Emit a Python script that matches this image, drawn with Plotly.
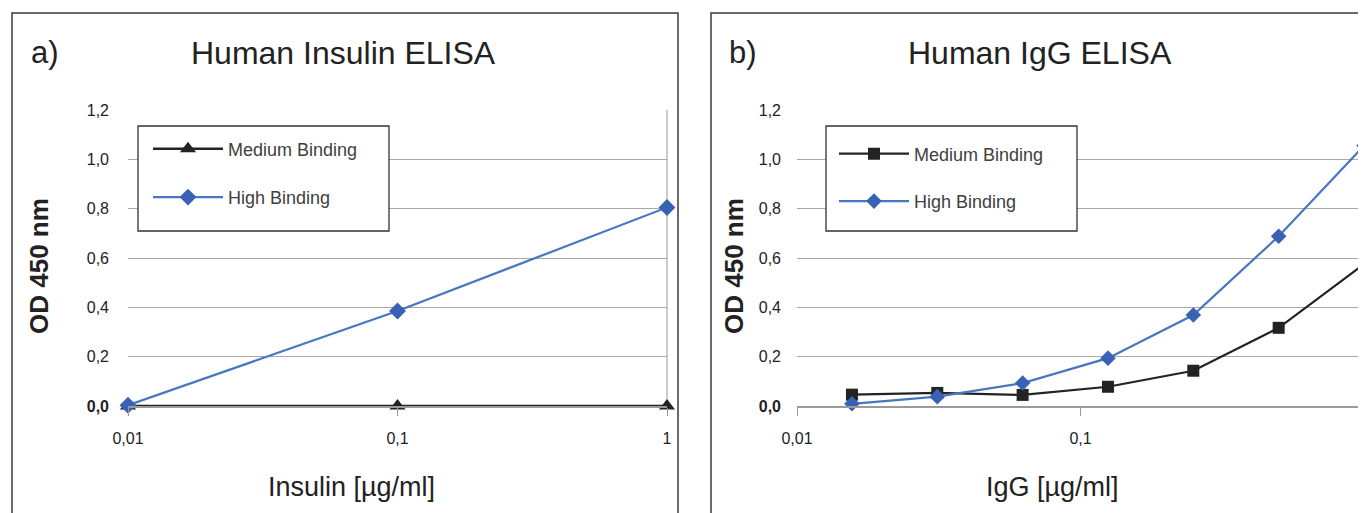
import plotly.graph_objects as go

# page body has an 8px margin; figure starts at (8, 8) inside the 1366x513 window
OFF = 8
W, H = 1366 - OFF, 513 - OFF

# ---- data ----
insulin_conc = [0.01, 0.1, 1]
insulin_medium = [0.0, 0.0, 0.0]
insulin_high = [0.003, 0.385, 0.805]

igg_conc = [0.015625, 0.03125, 0.0625, 0.125, 0.25, 0.5, 1]
igg_medium = [0.046, 0.053, 0.045, 0.078, 0.143, 0.317, 0.575]
igg_high = [0.009, 0.038, 0.093, 0.194, 0.369, 0.688, 1.055]

series_names = ["Medium Binding", "High Binding"]
panel_titles = ["Human Insulin ELISA", "Human IgG ELISA"]
panel_letters = ["a)", "b)"]
x_titles = ["Insulin [µg/ml]", "IgG [µg/ml]"]
y_title = "OD 450 nm"

y_ticks = [0, 0.2, 0.4, 0.6, 0.8, 1.0, 1.2]
y_tick_labels = ["<b>0,0</b>", "0,2", "0,4", "0,6", "0,8", "1,0", "1,2"]
x_ticks = [0.01, 0.1, 1]
x_tick_labels = ["0,01", "0,1", "1"]

# ---- styles ----
FONT = "Liberation Sans, Arial, Helvetica, sans-serif"
BLACK = "#232323"
BLUE_LINE = "#4677c0"
BLUE_MARK = "#3a62b4"
GRID = "#a8a8a8"
AXIS = "#9a9a9a"


def fx(px):
    return (px - OFF) / W


def fy(py):
    return 1 - (py - OFF) / H


fig = go.Figure()

# Panel a
fig.add_trace(go.Scatter(
    x=insulin_conc, y=insulin_medium, name=series_names[0], mode="lines+markers",
    line=dict(color=BLACK, width=2.4), marker=dict(symbol="triangle-up", size=14, color=BLACK),
    xaxis="x", yaxis="y", legend="legend", legendgroup="a1", cliponaxis=False))
fig.add_trace(go.Scatter(
    x=insulin_conc, y=insulin_high, name=series_names[1], mode="lines+markers",
    line=dict(color=BLUE_LINE, width=2.2), marker=dict(symbol="diamond", size=13, color=BLUE_MARK),
    xaxis="x", yaxis="y", legend="legend", legendgroup="a2", cliponaxis=False))

# Panel b
fig.add_trace(go.Scatter(
    x=igg_conc, y=igg_medium, name=series_names[0], mode="lines+markers",
    line=dict(color=BLACK, width=2.2), marker=dict(symbol="square", size=12, color=BLACK),
    xaxis="x2", yaxis="y2", legend="legend2", legendgroup="b1", cliponaxis=False))
fig.add_trace(go.Scatter(
    x=igg_conc, y=igg_high, name=series_names[1], mode="lines+markers",
    line=dict(color=BLUE_LINE, width=2.2), marker=dict(symbol="diamond", size=12, color=BLUE_MARK),
    xaxis="x2", yaxis="y2", legend="legend2", legendgroup="b2", cliponaxis=False))

xcommon = dict(type="log", range=[-2, 0], tickvals=x_ticks, ticktext=x_tick_labels,
               showgrid=False, zeroline=False, showline=True, linecolor=AXIS, linewidth=1.5,
               ticks="outside", ticklen=8, tickwidth=1, tickcolor=AXIS,
               tickfont=dict(family=FONT, size=16, color="#222"), ticklabelstandoff=9,
               automargin=False)
ycommon = dict(range=[0, 1.2], tickvals=y_ticks, ticktext=y_tick_labels,
               showgrid=True, gridcolor=GRID, gridwidth=1, zeroline=False, showline=False,
               ticks="", tickfont=dict(family=FONT, size=16, color="#222"), automargin=False)

fig.update_layout(
    width=W, height=H,
    margin=dict(l=0, r=0, t=0, b=0),
    paper_bgcolor="white", plot_bgcolor="white",
    font=dict(family=FONT, color="#222"),
    xaxis=dict(domain=[fx(128), fx(667)], anchor="y", **xcommon),
    yaxis=dict(domain=[fy(406), fy(110)], anchor="x", ticklabelstandoff=18, **ycommon),
    xaxis2=dict(domain=[fx(797), fx(1364)], anchor="y2", **xcommon),
    yaxis2=dict(domain=[fy(406), fy(110)], anchor="x2", ticklabelstandoff=15, **ycommon),
    legend=dict(x=fx(148), y=fy(130.5), xanchor="left", yanchor="top",
                bgcolor="rgba(0,0,0,0)", borderwidth=0, itemwidth=70,
                traceorder="grouped", tracegroupgap=22,
                font=dict(family=FONT, size=18, color="#404040")),
    legend2=dict(x=fx(834), y=fy(135.5), xanchor="left", yanchor="top",
                 bgcolor="rgba(0,0,0,0)", borderwidth=0, itemwidth=70,
                 traceorder="grouped", tracegroupgap=21,
                 font=dict(family=FONT, size=18, color="#404040")),
    showlegend=True,
)

shapes = []
# outer panel frames
shapes.append(dict(type="rect", xref="paper", yref="paper", x0=fx(12), x1=fx(678), y0=fy(540), y1=fy(13),
                   line=dict(color="#3a3a3a", width=1.5), fillcolor="rgba(0,0,0,0)", layer="below"))
shapes.append(dict(type="rect", xref="paper", yref="paper", x0=fx(711), x1=fx(1420), y0=fy(540), y1=fy(13),
                   line=dict(color="#3a3a3a", width=1.5), fillcolor="rgba(0,0,0,0)", layer="below"))
# right vertical gridline at x = 1
for xr, yr in [("x domain", "y domain"), ("x2 domain", "y2 domain")]:
    shapes.append(dict(type="line", xref=xr, yref=yr, x0=1, x1=1, y0=0, y1=1,
                       line=dict(color=GRID, width=1.2), layer="below"))
# legend boxes
shapes.append(dict(type="rect", xref="paper", yref="paper", x0=fx(138), x1=fx(389), y0=fy(231), y1=fy(126),
                   line=dict(color="#333", width=1.3), fillcolor="white", layer="above"))
shapes.append(dict(type="rect", xref="paper", yref="paper", x0=fx(826), x1=fx(1077), y0=fy(231), y1=fy(126),
                   line=dict(color="#333", width=1.3), fillcolor="white", layer="above"))
fig.update_layout(shapes=shapes)

ann = []


def add_text(text, x, y, size, xanchor="center", angle=0):
    ann.append(dict(text=text, x=fx(x), y=fy(y), xref="paper", yref="paper", showarrow=False,
                    xanchor=xanchor, yanchor="middle", textangle=angle,
                    font=dict(family=FONT, size=size, color="#222")))


add_text(panel_letters[0], 29, 53, 31, xanchor="left")
add_text(panel_letters[1], 727, 53, 31, xanchor="left")
add_text(panel_titles[0], 343, 53, 32)
add_text(panel_titles[1], 1040, 53, 32)
add_text(x_titles[0], 351, 487, 27)
add_text(x_titles[1], 1052, 487, 27)
add_text("<b>" + y_title + "</b>", 39, 266, 26, angle=-90)
add_text("<b>" + y_title + "</b>", 734, 266, 26, angle=-90)
fig.update_layout(annotations=ann)

fig.write_html("out.html")
